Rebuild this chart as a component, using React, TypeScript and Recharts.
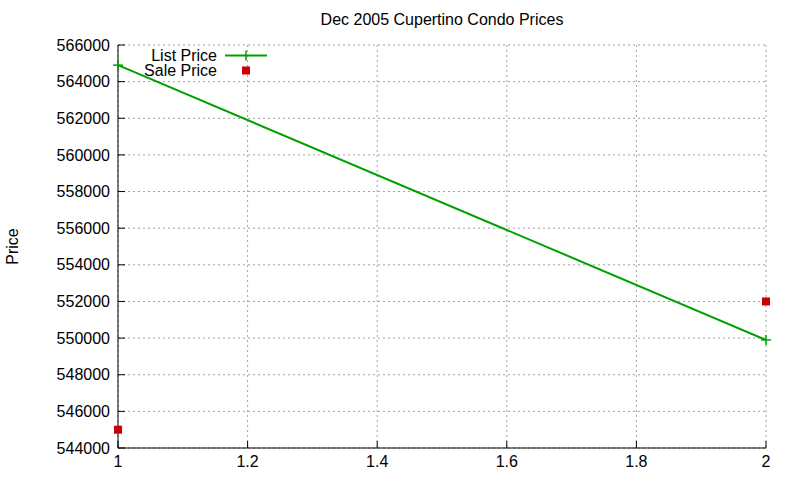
import {
  ComposedChart,
  Line,
  Scatter,
  XAxis,
  YAxis,
  CartesianGrid,
  Label,
} from "recharts";

const FONT = "'Liberation Sans', Arial, sans-serif";
const GREEN = "#00a000";
const RED = "#cc0000";

const listX = [1, 2];
const listY = [564900, 549900];
const saleX = [1, 2];
const saleY = [545000, 552000];
const xTicks = [1, 1.2, 1.4, 1.6, 1.8, 2];
const yTicks = [544000, 546000, 548000, 550000, 552000, 554000, 556000, 558000, 560000, 562000, 564000, 566000];

const listData = listX.map((x, i) => ({ x, y: listY[i] }));
const saleData = saleX.map((x, i) => ({ x, y: saleY[i] }));

const tickStyle = { fill: "#000", fontSize: 16, fontFamily: FONT };

function PlusDot(props: any) {
  const { cx, cy } = props;
  if (cx == null || cy == null) return null;
  return (
    <g>
      <line x1={cx - 5} x2={cx + 5} y1={cy} y2={cy} stroke={GREEN} strokeWidth={1.5} />
      <line x1={cx} x2={cx} y1={cy - 5} y2={cy + 5} stroke={GREEN} strokeWidth={1.5} />
    </g>
  );
}

function SquareDot(props: any) {
  const { cx, cy } = props;
  if (cx == null || cy == null) return null;
  return <rect x={cx - 4} y={cy - 4} width={8} height={8} fill={RED} />;
}

function KeyBox() {
  const row = { display: "flex", alignItems: "center", height: 15 } as const;
  const txt = { width: 100, textAlign: "right" as const, paddingRight: 8 };
  return (
    <div
      style={{
        position: "absolute",
        left: 117,
        top: 48,
        fontFamily: FONT,
        fontSize: 16,
        color: "#000",
        lineHeight: "15px",
      }}
    >
      <div style={row}>
        <span style={txt}>List Price</span>
        <svg width={44} height={15}>
          <line x1={0} x2={42} y1={7.5} y2={7.5} stroke={GREEN} strokeWidth={2} />
          <line x1={21} x2={21} y1={2.5} y2={12.5} stroke={GREEN} strokeWidth={1.5} />
        </svg>
      </div>
      <div style={row}>
        <span style={txt}>Sale Price</span>
        <svg width={44} height={15}>
          <rect x={17} y={3.5} width={8} height={8} fill={RED} />
        </svg>
      </div>
    </div>
  );
}

export default function App() {
  return (
    <div style={{ position: "absolute", left: 0, top: 0, width: 800, height: 480, background: "#fff" }}>
      <div
        style={{
          position: "absolute",
          left: 118,
          width: 648,
          top: 11,
          textAlign: "center",
          fontFamily: FONT,
          fontSize: 16,
          color: "#000",
        }}
      >
        Dec 2005 Cupertino Condo Prices
      </div>
      <ComposedChart width={800} height={480} margin={{ top: 45, right: 34, bottom: 2, left: 8 }}>
        <CartesianGrid stroke="#a0a0a0" strokeDasharray="2 3" />
        <XAxis
          type="number"
          dataKey="x"
          domain={[1, 2]}
          ticks={xTicks}
          height={30}
          stroke="#000"
          tick={tickStyle}
          tickSize={-7}
          tickMargin={15}
        />
        <XAxis
          xAxisId="t"
          orientation="top"
          type="number"
          domain={[1, 2]}
          ticks={xTicks}
          height={0}
          stroke="#000"
          tickSize={-7}
          tickFormatter={() => ""}
        />
        <YAxis
          type="number"
          dataKey="y"
          domain={[544000, 566000]}
          ticks={yTicks}
          width={110}
          stroke="#000"
          tick={tickStyle}
          tickSize={-7}
          tickMargin={15}
        >
          <Label
            value="Price"
            angle={-90}
            position="insideLeft"
            offset={4}
            style={{ fill: "#000", fontSize: 16, fontFamily: FONT, textAnchor: "middle" }}
          />
        </YAxis>
        <YAxis
          yAxisId="r"
          orientation="right"
          type="number"
          domain={[544000, 566000]}
          ticks={yTicks}
          width={0}
          stroke="#000"
          tickSize={-7}
          tickFormatter={() => ""}
        />
        <Line
          data={listData}
          dataKey="y"
          name="List Price"
          stroke={GREEN}
          strokeWidth={2}
          dot={<PlusDot />}
          activeDot={false}
          isAnimationActive={false}
        />
        <Scatter data={saleData} dataKey="y" name="Sale Price" shape={<SquareDot />} isAnimationActive={false} />
      </ComposedChart>
      <KeyBox />
    </div>
  );
}
